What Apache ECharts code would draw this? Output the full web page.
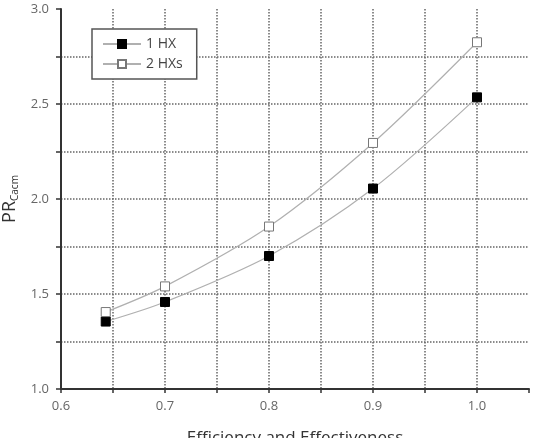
<!DOCTYPE html>
<html><head><meta charset="utf-8">
<script src="https://cdn.jsdelivr.net/npm/echarts@6/dist/echarts.min.js"></script>
<style>html,body{margin:0;padding:0;background:#fff}#c{width:545px;height:438px}</style>
</head><body><div id="c"></div>
<script>
const xValues = [0.643, 0.7, 0.8, 0.9, 1.0];
const oneHX = [1.355, 1.458, 1.70, 2.055, 2.535];
const twoHXs = [1.405, 1.54, 1.855, 2.295, 2.825];
const seriesNames = ['1 HX', '2 HXs'];

const chart = echarts.init(document.getElementById('c'), null, {renderer: 'canvas'});
const font = 'Open Sans';
const pairs = (ys) => xValues.map((x, i) => [x, ys[i]]);
chart.setOption({
  animation: false,
  backgroundColor: '#fff',
  textStyle: {fontFamily: font},
  grid: {left: 61, right: 16, top: 9, bottom: 49, containLabel: false, outerBoundsMode: 'none'},
  legend: {
    left: 92, top: 29, orient: 'vertical',
    padding: [8, 14, 8, 10],
    itemGap: 6, itemWidth: 38, itemHeight: 10,
    backgroundColor: '#fff', borderColor: '#555', borderWidth: 1.5,
    textStyle: {fontFamily: font, fontSize: 14, color: '#444'},
    data: seriesNames
  },
  xAxis: {
    type: 'value', min: 0.6, max: 1.05, interval: 0.05,
    name: 'Efficiency and Effectiveness', nameLocation: 'middle', nameGap: 41,
    nameTextStyle: {fontFamily: font, fontSize: 17, color: '#333'},
    axisLine: {show: true, lineStyle: {color: '#333', width: 2}},
    axisTick: {show: true, length: 4, lineStyle: {color: '#333', width: 1.5}},
    axisLabel: {
      fontFamily: font, fontSize: 13, color: '#666', margin: 11,
      formatter: v => (Math.round(v * 100) % 10 === 0 ? v.toFixed(1) : '')
    },
    splitLine: {show: true, showMinLine: false, showMaxLine: false,
      lineStyle: {color: '#666', type: [1.5, 1.5], width: 1.5}}
  },
  yAxis: {
    type: 'value', min: 1.0, max: 3.0, interval: 0.25,
    name: '{a|PR}{b|Cacm}', nameLocation: 'middle', nameGap: 33,
    nameTextStyle: {
      rich: {
        a: {fontFamily: font, fontSize: 18, color: '#333'},
        b: {fontFamily: font, fontSize: 10, color: '#333', padding: [9, 0, 0, 0]}
      }
    },
    axisLine: {show: true, lineStyle: {color: '#333', width: 2}},
    axisTick: {show: true, length: 5, lineStyle: {color: '#333', width: 1.5}},
    axisLabel: {
      fontFamily: font, fontSize: 13, color: '#666', margin: 12,
      formatter: v => (Math.round(v * 100) % 50 === 0 ? v.toFixed(1) : '')
    },
    splitLine: {show: true, showMinLine: false, showMaxLine: false,
      lineStyle: {color: '#666', type: [1.5, 1.5], width: 1.5}}
  },
  series: [
    {
      name: seriesNames[0], type: 'line', smooth: 0.3, data: pairs(oneHX),
      symbol: 'rect', symbolSize: 9,
      lineStyle: {color: '#b0b0b0', width: 1.2},
      itemStyle: {color: '#000', borderColor: '#000', borderWidth: 1}
    },
    {
      name: seriesNames[1], type: 'line', smooth: 0.3, data: pairs(twoHXs),
      symbol: 'rect', symbolSize: 9,
      lineStyle: {color: '#b0b0b0', width: 1.2},
      itemStyle: {color: '#fff', borderColor: '#777', borderWidth: 1}
    }
  ]
});
</script></body></html>
